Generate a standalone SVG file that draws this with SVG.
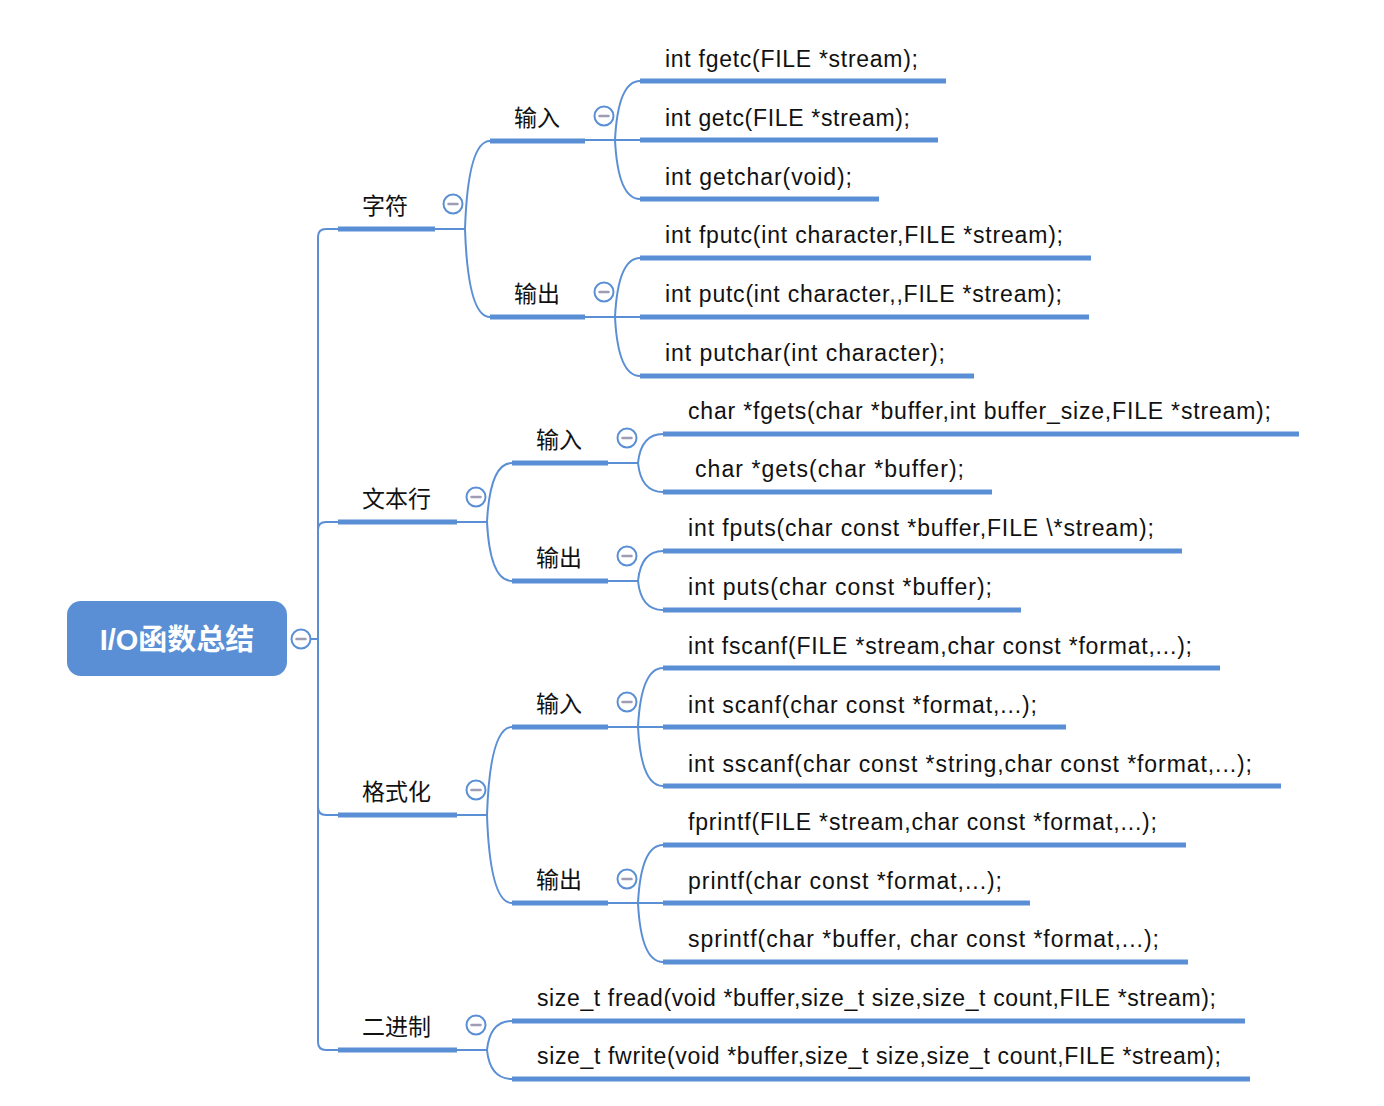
<svg xmlns="http://www.w3.org/2000/svg" width="1384" height="1106" viewBox="0 0 1384 1106">
  <style>
    .bar { stroke: #5b8fd5; stroke-width: 5; fill: none; }
    .ln { stroke: #5b8fd5; stroke-width: 2; fill: none; }
    .tog circle { fill: #ffffff; stroke: #5b8fd5; stroke-width: 2; }
    .tog line { stroke: #9d9db5; stroke-width: 2.5; stroke-linecap: round; }
    .t1 { font-family: "Liberation Sans", "Noto Sans CJK SC", sans-serif; font-size: 23px; fill: #111111; }
    .lf { font-family: "Liberation Sans", "Noto Sans CJK SC", sans-serif; font-size: 23px; fill: #111111; }
    .root { font-family: "Liberation Sans", "Noto Sans CJK SC", sans-serif; font-size: 29px; font-weight: bold; fill: #ffffff; }
  </style>
  <defs>
    <g id="toggle" class="tog">
      <circle cx="0" cy="0" r="9.5"/>
      <line x1="-4.5" y1="0" x2="4.5" y2="0"/>
    </g>
  </defs>
  <rect width="1384" height="1106" fill="#ffffff"/>

  <!-- connectors -->
  <g id="connectors">
    <!-- trunk from root -->
    <path class="ln" d="M310,639 H318"/>
    <path class="ln" d="M318,639 V237 Q318,229 326,229 H338"/>
    <path class="ln" d="M318,639 V530 Q318,522 326,522 H338"/>
    <path class="ln" d="M318,639 V807 Q318,815 326,815 H338"/>
    <path class="ln" d="M318,639 V1042 Q318,1050 326,1050 H338"/>

    <!-- 字符 -->
    <path class="ln" d="M435,229 H465"/>
    <path class="ln" d="M465,229 Q468,141 490,141"/>
    <path class="ln" d="M465,229 Q468,317 490,317"/>
    <!-- 字符 / 输入 -->
    <path class="ln" d="M585,140 H640"/>
    <path class="ln" d="M615,140 Q618,81 640,81"/>
    <path class="ln" d="M615,140 Q618,199 640,199"/>
    <!-- 字符 / 输出 -->
    <path class="ln" d="M585,317 H640"/>
    <path class="ln" d="M615,317 Q618,258 640,258"/>
    <path class="ln" d="M615,317 Q618,376 640,376"/>

    <!-- 文本行 -->
    <path class="ln" d="M457,522 H487"/>
    <path class="ln" d="M487,522 Q490,463 512,463"/>
    <path class="ln" d="M487,522 Q490,581 512,581"/>
    <!-- 文本行 / 输入 -->
    <path class="ln" d="M608,463 H638"/>
    <path class="ln" d="M638,463 Q641,434 663,434"/>
    <path class="ln" d="M638,463 Q641,492 663,492"/>
    <!-- 文本行 / 输出 -->
    <path class="ln" d="M608,581 H638"/>
    <path class="ln" d="M638,581 Q641,551 663,551"/>
    <path class="ln" d="M638,581 Q641,610 663,610"/>

    <!-- 格式化 -->
    <path class="ln" d="M457,815 H487"/>
    <path class="ln" d="M487,815 Q490,727 512,727"/>
    <path class="ln" d="M487,815 Q490,903 512,903"/>
    <!-- 格式化 / 输入 -->
    <path class="ln" d="M608,727 H663"/>
    <path class="ln" d="M638,727 Q641,668 663,668"/>
    <path class="ln" d="M638,727 Q641,786 663,786"/>
    <!-- 格式化 / 输出 -->
    <path class="ln" d="M608,903 H663"/>
    <path class="ln" d="M638,903 Q641,845 663,845"/>
    <path class="ln" d="M638,903 Q641,962 663,962"/>

    <!-- 二进制 -->
    <path class="ln" d="M457,1050 H487"/>
    <path class="ln" d="M487,1050 Q490,1021 512,1021"/>
    <path class="ln" d="M487,1050 Q490,1079 512,1079"/>
  </g>

  <!-- root -->
  <g id="root">
    <rect x="67" y="601" width="220" height="75" rx="14" fill="#5b8fd5"/>
    <text class="root" x="177" y="650" text-anchor="middle">I/O函数总结</text>
    <use href="#toggle" x="301" y="639"/>
  </g>

  <!-- 字符 -->
  <g id="n-char">
    <text class="t1" x="362" y="214">字符</text>
    <path class="bar" d="M338,229 H435"/>
    <use href="#toggle" x="453" y="204"/>
  </g>
  <g id="n-char-in">
    <text class="t1" x="514" y="126">输入</text>
    <path class="bar" d="M490,141 H585"/>
    <use href="#toggle" x="604" y="116"/>
  </g>
  <g id="n-fgetc">
    <text class="lf" x="665" y="67" textLength="253">int fgetc(FILE *stream);</text>
    <path class="bar" d="M640,81 H946"/>
  </g>
  <g id="n-getc">
    <text class="lf" x="665" y="126" textLength="245">int getc(FILE *stream);</text>
    <path class="bar" d="M640,140 H938"/>
  </g>
  <g id="n-getchar">
    <text class="lf" x="665" y="185" textLength="187">int getchar(void);</text>
    <path class="bar" d="M640,199 H879"/>
  </g>
  <g id="n-char-out">
    <text class="t1" x="514" y="302">输出</text>
    <path class="bar" d="M490,317 H585"/>
    <use href="#toggle" x="604" y="292"/>
  </g>
  <g id="n-fputc">
    <text class="lf" x="665" y="243" textLength="398">int fputc(int character,FILE *stream);</text>
    <path class="bar" d="M640,258 H1091"/>
  </g>
  <g id="n-putc">
    <text class="lf" x="665" y="302" textLength="397">int putc(int character,,FILE *stream);</text>
    <path class="bar" d="M640,317 H1089"/>
  </g>
  <g id="n-putchar">
    <text class="lf" x="665" y="361" textLength="280">int putchar(int character);</text>
    <path class="bar" d="M640,376 H974"/>
  </g>

  <!-- 文本行 -->
  <g id="n-line">
    <text class="t1" x="362" y="507">文本行</text>
    <path class="bar" d="M338,522 H457"/>
    <use href="#toggle" x="476" y="497"/>
  </g>
  <g id="n-line-in">
    <text class="t1" x="536" y="448">输入</text>
    <path class="bar" d="M512,463 H608"/>
    <use href="#toggle" x="627" y="438"/>
  </g>
  <g id="n-fgets">
    <text class="lf" x="688" y="419" textLength="583">char *fgets(char *buffer,int buffer_size,FILE *stream);</text>
    <path class="bar" d="M663,434 H1299"/>
  </g>
  <g id="n-gets">
    <text class="lf" x="695" y="477" textLength="269">char *gets(char *buffer);</text>
    <path class="bar" d="M663,492 H992"/>
  </g>
  <g id="n-line-out">
    <text class="t1" x="536" y="566">输出</text>
    <path class="bar" d="M512,581 H608"/>
    <use href="#toggle" x="627" y="556"/>
  </g>
  <g id="n-fputs">
    <text class="lf" x="688" y="536" textLength="466">int fputs(char const *buffer,FILE \*stream);</text>
    <path class="bar" d="M663,551 H1182"/>
  </g>
  <g id="n-puts">
    <text class="lf" x="688" y="595" textLength="304">int puts(char const *buffer);</text>
    <path class="bar" d="M663,610 H1021"/>
  </g>

  <!-- 格式化 -->
  <g id="n-fmt">
    <text class="t1" x="362" y="800">格式化</text>
    <path class="bar" d="M338,815 H457"/>
    <use href="#toggle" x="476" y="790"/>
  </g>
  <g id="n-fmt-in">
    <text class="t1" x="536" y="712">输入</text>
    <path class="bar" d="M512,727 H608"/>
    <use href="#toggle" x="627" y="702"/>
  </g>
  <g id="n-fscanf">
    <text class="lf" x="688" y="654" textLength="504">int fscanf(FILE *stream,char const *format,...);</text>
    <path class="bar" d="M663,668 H1220"/>
  </g>
  <g id="n-scanf">
    <text class="lf" x="688" y="713" textLength="349">int scanf(char const *format,...);</text>
    <path class="bar" d="M663,727 H1066"/>
  </g>
  <g id="n-sscanf">
    <text class="lf" x="688" y="772" textLength="564">int sscanf(char const *string,char const *format,...);</text>
    <path class="bar" d="M663,786 H1281"/>
  </g>
  <g id="n-fmt-out">
    <text class="t1" x="536" y="888">输出</text>
    <path class="bar" d="M512,903 H608"/>
    <use href="#toggle" x="627" y="879"/>
  </g>
  <g id="n-fprintf">
    <text class="lf" x="688" y="830" textLength="469">fprintf(FILE *stream,char const *format,...);</text>
    <path class="bar" d="M663,845 H1186"/>
  </g>
  <g id="n-printf">
    <text class="lf" x="688" y="889" textLength="314">printf(char const *format,...);</text>
    <path class="bar" d="M663,903 H1030"/>
  </g>
  <g id="n-sprintf">
    <text class="lf" x="688" y="947" textLength="471">sprintf(char *buffer, char const *format,...);</text>
    <path class="bar" d="M663,962 H1188"/>
  </g>

  <!-- 二进制 -->
  <g id="n-bin">
    <text class="t1" x="362" y="1035">二进制</text>
    <path class="bar" d="M338,1050 H457"/>
    <use href="#toggle" x="476" y="1025"/>
  </g>
  <g id="n-fread">
    <text class="lf" x="537" y="1006" textLength="679">size_t fread(void *buffer,size_t size,size_t count,FILE *stream);</text>
    <path class="bar" d="M512,1021 H1245"/>
  </g>
  <g id="n-fwrite">
    <text class="lf" x="537" y="1064" textLength="684">size_t fwrite(void *buffer,size_t size,size_t count,FILE *stream);</text>
    <path class="bar" d="M512,1079 H1250"/>
  </g>
</svg>
